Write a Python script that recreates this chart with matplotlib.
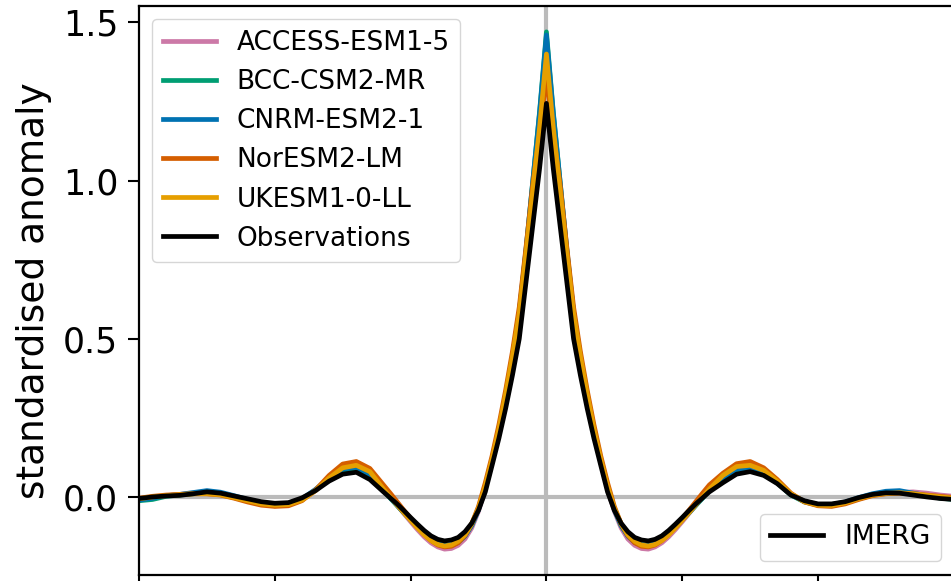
import numpy as np
import matplotlib
matplotlib.use("Agg")
import matplotlib.pyplot as plt
from matplotlib.lines import Line2D

# lag (days): daily in the tails, half-daily around the peak
lags_left = list(range(-30, -12))
lags_core = [k * 0.5 for k in range(-24, 25)]
lags_right = list(range(13, 31))
lags = lags_left + lags_core + lags_right

models = ["ACCESS-ESM1-5", "BCC-CSM2-MR", "CNRM-ESM2-1", "NorESM2-LM", "UKESM1-0-LL"]
colors = ["#CC79A7", "#009E73", "#0072B2", "#D55E00", "#E69F00"]

# values at lag 0
access_peak, bcc_peak, cnrm_peak, noresm_peak, ukesm_peak, obs_peak = 1.37, 1.47, 1.46, 1.33, 1.40, 1.244

# core: lags 0.5 .. 12 (same either side of lag 0)
access_core = [1.15, 0.965, 0.77, 0.58, 0.445, 0.32, 0.21, 0.11, 0.025, -0.045, -0.098, -0.133,
               -0.153, -0.163, -0.165, -0.158, -0.145, -0.126, -0.103, -0.078, -0.052, -0.026, -0.001, 0.024]
bcc_core = [1.22, 1.00, 0.78, 0.58, 0.44, 0.315, 0.205, 0.11, 0.028, -0.04, -0.09, -0.123,
            -0.142, -0.151, -0.152, -0.146, -0.133, -0.115, -0.094, -0.072, -0.05, -0.027, -0.004, 0.02]
cnrm_core = [1.215, 1.00, 0.785, 0.585, 0.445, 0.318, 0.208, 0.112, 0.03, -0.04, -0.09, -0.124,
             -0.144, -0.153, -0.154, -0.148, -0.135, -0.116, -0.095, -0.072, -0.05, -0.026, -0.002, 0.022]
noresm_core = [1.15, 0.99, 0.79, 0.60, 0.46, 0.338, 0.228, 0.13, 0.045, -0.03, -0.085, -0.122,
               -0.145, -0.156, -0.158, -0.152, -0.138, -0.118, -0.094, -0.068, -0.042, -0.015, 0.012, 0.038]
ukesm_core = [1.17, 0.97, 0.77, 0.58, 0.445, 0.325, 0.215, 0.12, 0.035, -0.035, -0.085, -0.12,
              -0.14, -0.152, -0.155, -0.15, -0.138, -0.12, -0.098, -0.074, -0.05, -0.025, 0.0, 0.025]
obs_core = [1.04, 0.86, 0.68, 0.50, 0.385, 0.28, 0.185, 0.10, 0.016, -0.042, -0.083, -0.11,
            -0.128, -0.136, -0.139, -0.134, -0.123, -0.106, -0.086, -0.065, -0.043, -0.022, -0.003, 0.016]

# tails: lags -30 .. -13 and 13 .. 30
access_left = [-0.008, -0.003, 0.004, 0.008, 0.012, 0.010, 0.008, -0.002, -0.012, -0.022,
               -0.028, -0.025, -0.010, 0.020, 0.060, 0.088, 0.095, 0.072]
access_right = [0.062, 0.088, 0.094, 0.078, 0.045, 0.008, -0.015, -0.025, -0.026, -0.018,
                -0.004, 0.008, 0.012, 0.014, 0.016, 0.012, 0.006, 0.002]
bcc_left = [-0.012, -0.008, 0.002, 0.006, 0.010, 0.012, 0.008, 0.000, -0.010, -0.020,
            -0.026, -0.024, -0.008, 0.022, 0.058, 0.085, 0.090, 0.070]
bcc_right = [0.058, 0.085, 0.090, 0.074, 0.044, 0.006, -0.016, -0.026, -0.027, -0.019,
             -0.006, 0.006, 0.012, 0.014, 0.010, 0.004, -0.004, -0.008]
cnrm_left = [-0.010, -0.004, 0.004, 0.008, 0.014, 0.020, 0.015, 0.004, -0.008, -0.018,
             -0.025, -0.022, -0.006, 0.024, 0.060, 0.088, 0.094, 0.072]
cnrm_right = [0.060, 0.088, 0.092, 0.076, 0.045, 0.008, -0.014, -0.024, -0.024, -0.016,
              -0.002, 0.010, 0.018, 0.020, 0.012, 0.004, -0.002, -0.006]
noresm_left = [-0.004, 0.002, 0.006, 0.008, 0.010, 0.010, 0.006, -0.004, -0.016, -0.026,
               -0.030, -0.028, -0.012, 0.022, 0.068, 0.104, 0.112, 0.090]
noresm_right = [0.075, 0.105, 0.112, 0.092, 0.055, 0.012, -0.016, -0.028, -0.030, -0.022,
                -0.008, 0.004, 0.010, 0.012, 0.010, 0.006, 0.002, -0.002]
ukesm_left = [-0.006, 0.000, 0.004, 0.007, 0.010, 0.010, 0.007, -0.002, -0.012, -0.022,
              -0.026, -0.024, -0.010, 0.020, 0.060, 0.092, 0.100, 0.080]
ukesm_right = [0.068, 0.096, 0.100, 0.084, 0.050, 0.010, -0.015, -0.026, -0.027, -0.019,
               -0.005, 0.006, 0.011, 0.013, 0.010, 0.005, 0.000, -0.004]
obs_left = [-0.005, 0.000, 0.003, 0.005, 0.010, 0.016, 0.012, 0.003, -0.006, -0.015,
            -0.020, -0.018, -0.003, 0.020, 0.050, 0.072, 0.078, 0.055]
obs_right = [0.045, 0.072, 0.080, 0.068, 0.042, 0.006, -0.012, -0.022, -0.022, -0.015,
             -0.002, 0.008, 0.013, 0.012, 0.006, 0.000, -0.005, -0.008]


def build(left, core, peak, right):
    return left + core[::-1] + [peak] + core + right


series = [build(access_left, access_core, access_peak, access_right),
          build(bcc_left, bcc_core, bcc_peak, bcc_right),
          build(cnrm_left, cnrm_core, cnrm_peak, cnrm_right),
          build(noresm_left, noresm_core, noresm_peak, noresm_right),
          build(ukesm_left, ukesm_core, ukesm_peak, ukesm_right)]
obs = build(obs_left, obs_core, obs_peak, obs_right)

fig = plt.figure(figsize=(9.51, 5.81), dpi=100)
# axes runs past the right edge of the picture (cropped panel)
ax = fig.add_axes([139/951, 6/581, 842/951, 569/581])

ax.axhline(0, color="#bbbbbb", lw=3, zorder=1)
ax.axvline(0, color="#bbbbbb", lw=3, zorder=1)

for name, c, s in zip(models, colors, series):
    ax.plot(lags, s, color=c, lw=3.4, label=name, zorder=2)
ax.plot(lags, obs, color="k", lw=3.4, label="Observations", zorder=3)

ax.set_xlim(-30, 32)
ax.set_xticks([-30, -20, -10, 0, 10, 20, 30])
ax.set_xticklabels([])
ax.set_yticks([0.0, 0.5, 1.0, 1.5])
ax.set_ylabel("standardised anomaly", fontsize=27, labelpad=8)
ax.tick_params(labelsize=25, length=8, width=1.5, pad=7)
for sp in ax.spines.values():
    sp.set_linewidth(1.6)

leg1 = ax.legend(loc="upper left", fontsize=19)
ax.add_artist(leg1)
imerg = Line2D([], [], color="k", lw=3.4)
ax.legend(handles=[imerg], labels=["IMERG"], loc="lower right", fontsize=19,
          bbox_to_anchor=(941/951, 1 - 561/581), bbox_transform=fig.transFigure,
          borderaxespad=0)

fig.savefig("out.png", dpi=100)
